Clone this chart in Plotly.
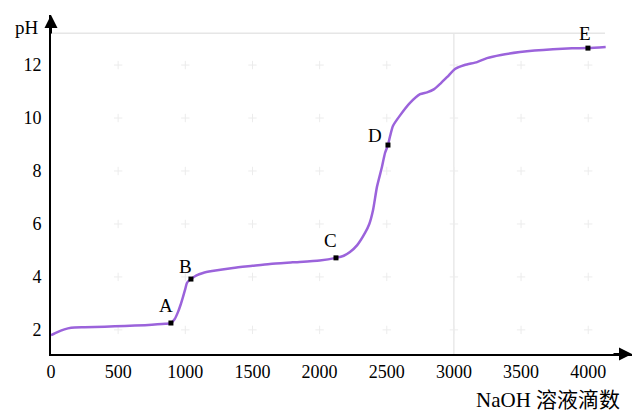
import plotly.graph_objects as go

# titration curve (NaOH drops vs pH)
drops = [0, 40, 100, 150, 250, 400, 550, 700, 850, 893, 920, 946, 965, 983, 1000, 1012, 1030, 1042,
         1080, 1132, 1200, 1355, 1500, 1630, 1800, 2000, 2122, 2180, 2226, 2280, 2338, 2370, 2398,
         2427, 2464, 2487, 2509, 2524, 2546, 2599, 2673, 2748, 2800, 2850, 2900, 2950, 3008, 3080,
         3172, 3246, 3350, 3492, 3600, 3738, 3880, 3998, 4130]
ph = [1.80, 1.90, 2.02, 2.08, 2.10, 2.12, 2.15, 2.18, 2.23, 2.26, 2.40, 2.68, 2.95, 3.25, 3.55, 3.77, 3.88, 3.92,
      4.05, 4.15, 4.22, 4.34, 4.42, 4.49, 4.55, 4.62, 4.72, 4.80, 4.94, 5.20, 5.66, 6.00, 6.53,
      7.40, 8.15, 8.68, 8.98, 9.30, 9.70, 10.10, 10.57, 10.90, 10.97, 11.08, 11.30, 11.55, 11.85, 12.00,
      12.11, 12.26, 12.38, 12.49, 12.55, 12.60, 12.63, 12.64, 12.68]

point_labels = ["A", "B", "C", "D", "E"]
point_x = [893, 1042, 2122, 2509, 3998]
point_y = [2.26, 3.92, 4.72, 8.98, 12.64]
label_dx = [-5, -5, -5, -13, -3]
label_dy = [18, 13, 17, 10, 15]

x_ticks = [0, 500, 1000, 1500, 2000, 2500, 3000, 3500, 4000]
y_ticks = [2, 4, 6, 8, 10, 12]

X_RANGE = [0, 4326]
Y_RANGE = [1.09, 13.89]
SERIF = "Liberation Serif, Noto Sans CJK SC, serif"

fig = go.Figure()

# faint grid crosses
gx, gy = [], []
for xv in x_ticks[1:]:
    for yv in y_ticks:
        gx.append(xv)
        gy.append(yv)
fig.add_trace(go.Scatter(x=gx, y=gy, mode="markers", hoverinfo="skip",
                         marker=dict(symbol="cross-thin", size=6,
                                     line=dict(color="#ececec", width=1))))

fig.add_trace(go.Scatter(x=drops, y=ph, mode="lines",
                         line=dict(color="#9b63db", width=2.5, shape="spline", smoothing=0.6)))

fig.add_trace(go.Scatter(x=point_x, y=point_y, mode="markers",
                         marker=dict(symbol="square", size=5, color="black")))

for t, xv, yv, dx, dy in zip(point_labels, point_x, point_y, label_dx, label_dy):
    fig.add_annotation(x=xv, y=yv, text=t, showarrow=False, xshift=dx, yshift=dy,
                       xanchor="center", yanchor="middle",
                       font=dict(family=SERIF, size=19, color="black"))

# light reference lines
fig.add_shape(type="line", x0=3000, x1=3000, y0=Y_RANGE[0], y1=13.2,
              line=dict(color="#dedede", width=1), layer="below")
fig.add_shape(type="line", x0=0, x1=4125, y0=13.2, y1=13.2,
              line=dict(color="#e6e6e6", width=1.5), layer="below")

# axis arrows
fig.add_annotation(x=1, y=0, xref="paper", yref="paper", ax=-20, ay=0,
                   axref="pixel", ayref="pixel", text="", showarrow=True,
                   arrowhead=2, arrowsize=1.3, arrowwidth=2, arrowcolor="black")
fig.add_annotation(x=0, y=1, xref="paper", yref="paper", ax=0, ay=20,
                   axref="pixel", ayref="pixel", text="", showarrow=True,
                   arrowhead=2, arrowsize=1.3, arrowwidth=2, arrowcolor="black")

fig.add_annotation(x=-0.041, y=0.962, xref="paper", yref="paper", text="pH", showarrow=False,
                   xanchor="center", yanchor="middle",
                   font=dict(family=SERIF, size=19, color="black"))
fig.add_annotation(x=0.855, y=-0.135, xref="paper", yref="paper", text="NaOH 溶液滴数",
                   showarrow=False, xanchor="center", yanchor="middle",
                   font=dict(family=SERIF, size=21, color="black"))

fig.update_layout(
    width=640, height=415,
    margin=dict(l=51, r=8, t=15, b=61, autoexpand=False),
    paper_bgcolor="white", plot_bgcolor="white",
    showlegend=False,
    font=dict(family=SERIF, size=18, color="black"),
    xaxis=dict(range=X_RANGE, tickvals=x_ticks, ticktext=[str(v) for v in x_ticks],
               showgrid=False, zeroline=False, showline=True, linecolor="black", linewidth=2,
               ticks="", ticklabelstandoff=0, automargin=False,
               tickfont=dict(family=SERIF, size=18)),
    yaxis=dict(range=Y_RANGE, tickvals=y_ticks, ticktext=[str(v) for v in y_ticks],
               showgrid=False, zeroline=False, showline=True, linecolor="black", linewidth=2,
               ticks="", ticklabelstandoff=4, automargin=False,
               tickfont=dict(family=SERIF, size=18)),
)

fig.write_html("out.html", config={"displayModeBar": False},
               post_script="document.body.style.margin='0';")
